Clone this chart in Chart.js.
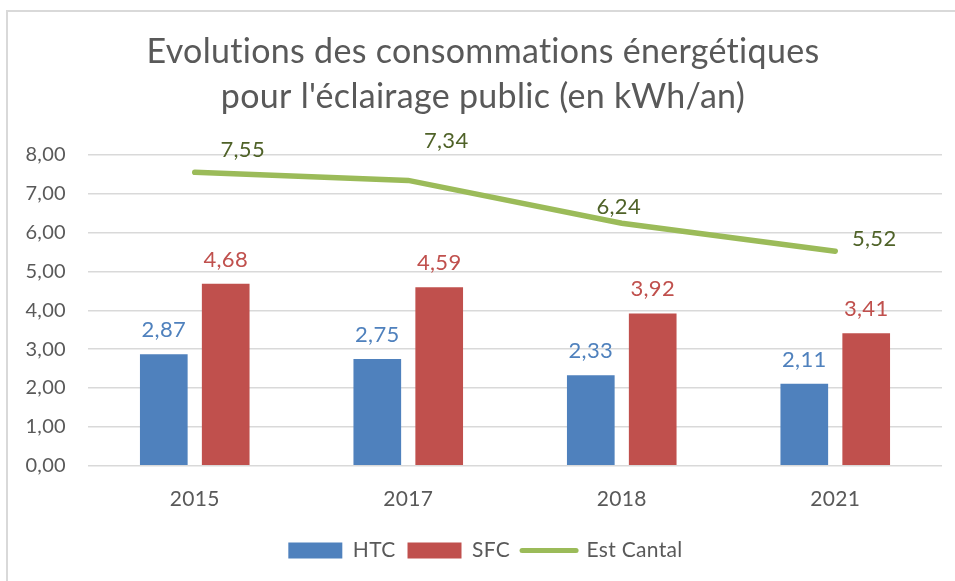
<!DOCTYPE html>
<html>
<head>
<meta charset="utf-8">
<script src="https://cdn.jsdelivr.net/npm/chart.js@4/dist/chart.umd.min.js"></script>
<style>
    html, body { margin: 0; padding: 0; background: #fff; }
    #wrap { position: relative; width: 955px; height: 581px; }
    #frame { position: absolute; left: 6px; top: 10px; right: 0; bottom: 0;
             border-left: 2px solid #d9d9d9; border-top: 2px solid #d9d9d9; pointer-events: none; }
</style>
</head>
<body>
<div id="wrap">
    <canvas id="chart" width="955" height="581"></canvas>
    <div id="frame"></div>
</div>
<script>
// Données
const years = ['2015', '2017', '2018', '2021'];
const htc = [2.87, 2.75, 2.33, 2.11];
const sfc = [4.68, 4.59, 3.92, 3.41];
const estCantal = [7.55, 7.34, 6.24, 5.52];
const yTicks = [0, 1, 2, 3, 4, 5, 6, 7, 8];

// décalage des étiquettes de la courbe (placées à la main dans l'original)
const lineLabelOffsets = [[48, -22], [38, -40], [-3, -16], [39, -12]];

const FONT = "Lato, 'Open Sans', sans-serif";
const fmt = v => v.toFixed(2).replace('.', ',');

// pas de ligatures (« ti ») dans le texte du canvas
const noLigatures = {
    id: 'noLigatures',
    beforeDraw(chart) { chart.ctx.letterSpacing = '0.3px'; }
};

const valueLabels = {
    id: 'valueLabels',
    afterDatasetsDraw(chart) {
        const ctx = chart.ctx;
        ctx.save();
        ctx.font = '22px ' + FONT;
        ctx.textAlign = 'center';
        ctx.textBaseline = 'middle';
        chart.data.datasets.forEach((ds, i) => {
            const meta = chart.getDatasetMeta(i);
            meta.data.forEach((el, j) => {
                ctx.fillStyle = ds.labelColor;
                if (ds.type === 'line') {
                    const off = lineLabelOffsets[j];
                    ctx.fillText(fmt(ds.data[j]), el.x + off[0], el.y + off[1]);
                } else {
                    ctx.fillText(fmt(ds.data[j]), el.x, el.y - 24);
                }
            });
        });
        ctx.restore();
    }
};

new Chart(document.getElementById('chart'), {
    data: {
        labels: years,
        datasets: [
            {
                type: 'bar', label: 'HTC', data: htc, order: 2,
                backgroundColor: '#4F81BD', labelColor: '#4F81BD',
                categoryPercentage: 0.58, barPercentage: 0.77
            },
            {
                type: 'bar', label: 'SFC', data: sfc, order: 2,
                backgroundColor: '#C0504D', labelColor: '#C0504D',
                categoryPercentage: 0.58, barPercentage: 0.77
            },
            {
                type: 'line', label: 'Est Cantal', data: estCantal, order: 1,
                borderColor: '#9BBB59', backgroundColor: '#9BBB59', labelColor: '#4F6228',
                borderWidth: 5.5, borderCapStyle: 'round', pointRadius: 0, tension: 0, fill: false
            }
        ]
    },
    options: {
        responsive: false,
        animation: false,
        layout: { padding: { left: 24, right: 13, top: 0, bottom: 10 } },
        plugins: {
            title: {
                display: true,
                text: ['Evolutions des consommations énergétiques', "pour l'éclairage public (en kWh/an)"],
                color: '#595959',
                font: { family: FONT, size: 34, weight: 'normal', lineHeight: 1.32 },
                padding: { top: 30, bottom: 35 }
            },
            legend: {
                position: 'bottom',
                labels: {
                    usePointStyle: true,
                    pointStyleWidth: 54,
                    boxHeight: 16,
                    color: '#595959',
                    font: { family: FONT, size: 21 },
                    padding: 12,
                    sort: (a, b) => a.datasetIndex - b.datasetIndex,
                    generateLabels(chart) {
                        return chart.data.datasets.map((ds, i) => ({
                            text: ds.label,
                            fillStyle: ds.backgroundColor,
                            strokeStyle: ds.type === 'line' ? ds.borderColor : ds.backgroundColor,
                            lineWidth: ds.type === 'line' ? 5 : 0,
                            lineCap: 'round',
                            pointStyle: ds.type === 'line' ? 'line' : 'rect',
                            fontColor: '#595959',
                            datasetIndex: i
                        }));
                    }
                }
            },
            tooltip: { enabled: false }
        },
        scales: {
            x: {
                grid: { display: false },
                border: { display: false },
                afterFit(axis) { axis.height += 3; },
                ticks: { color: '#595959', font: { family: FONT, size: 21 }, padding: 13 }
            },
            y: {
                min: 0, max: 8,
                afterBuildTicks(axis) { axis.ticks = yTicks.map(v => ({ value: v })); },
                afterFit(axis) { axis.width = 64; },
                grid: { color: '#d9d9d9', lineWidth: 1.5, drawTicks: false },
                border: { display: false },
                ticks: { color: '#595959', font: { family: FONT, size: 20 }, padding: 22, callback: v => fmt(v) }
            }
        }
    },
    plugins: [noLigatures, valueLabels]
});
</script>
</body>
</html>
